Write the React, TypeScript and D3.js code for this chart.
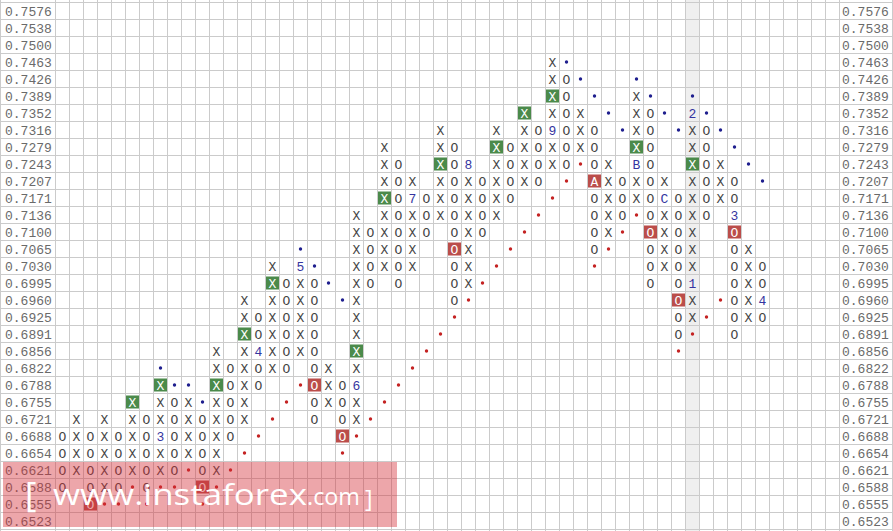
import * as d3 from 'd3';

// price rows, top to bottom
const priceLevels = [
  '0.7576', '0.7538', '0.7500', '0.7463', '0.7426', '0.7389', '0.7352', '0.7316',
  '0.7279', '0.7243', '0.7207', '0.7171', '0.7136', '0.7100', '0.7065', '0.7030',
  '0.6995', '0.6960', '0.6925', '0.6891', '0.6856', '0.6822', '0.6788', '0.6755',
  '0.6721', '0.6688', '0.6654', '0.6621', '0.6588', '0.6555', '0.6523',
];

// P&F columns, first one is an O column, then they alternate
const columnHigh = [
  '0.6688', '0.6721', '0.6688', '0.6721', '0.6688', '0.6755', '0.6721', '0.6788', '0.6755', '0.6755',
  '0.6721', '0.6856', '0.6822', '0.6960', '0.6925', '0.7030', '0.6995', '0.7030', '0.6995', '0.6822',
  '0.6788', '0.7136', '0.7100', '0.7279', '0.7243', '0.7207', '0.7171', '0.7316', '0.7279', '0.7243',
  '0.7207', '0.7316', '0.7279', '0.7352', '0.7316', '0.7463', '0.7426', '0.7352', '0.7316', '0.7243',
  '0.7207', '0.7389', '0.7352', '0.7207', '0.7171', '0.7352', '0.7316', '0.7243', '0.7207', '0.7065',
  '0.7030',
];
const columnLow = [
  '0.6588', '0.6621', '0.6555', '0.6588', '0.6588', '0.6621', '0.6588', '0.6621', '0.6621', '0.6654',
  '0.6588', '0.6621', '0.6688', '0.6721', '0.6788', '0.6822', '0.6822', '0.6856', '0.6721', '0.6755',
  '0.6688', '0.6721', '0.6995', '0.7030', '0.6995', '0.7030', '0.7100', '0.7136', '0.6960', '0.6995',
  '0.7100', '0.7136', '0.7171', '0.7207', '0.7207', '0.7243', '0.7243', '0.7279', '0.7065', '0.7100',
  '0.7136', '0.7171', '0.6995', '0.7030', '0.6891', '0.6925', '0.7136', '0.7171', '0.6891', '0.6925',
  '0.6925',
];

const greenBoxes: [number, string][] = [
  [5, '0.6755'], [7, '0.6788'], [11, '0.6788'], [13, '0.6891'], [15, '0.6995'], [21, '0.6856'],
  [23, '0.7171'], [27, '0.7243'], [31, '0.7279'], [33, '0.7352'], [35, '0.7389'], [41, '0.7279'],
  [45, '0.7243'],
];
const redBoxes: [number, string, string][] = [
  [2, '0.6555', 'O'], [10, '0.6588', 'O'], [18, '0.6788', 'O'], [20, '0.6688', 'O'], [28, '0.7065', 'O'],
  [38, '0.7207', 'A'], [42, '0.7100', 'O'], [44, '0.6960', 'O'], [48, '0.7100', 'O'],
];
const monthMarks: [number, string, string][] = [
  [7, '0.6688', '3'], [14, '0.6856', '4'], [17, '0.7030', '5'], [21, '0.6788', '6'], [25, '0.7171', '7'],
  [29, '0.7243', '8'], [35, '0.7316', '9'], [41, '0.7243', 'B'], [43, '0.7171', 'C'], [45, '0.7352', '2'],
  [45, '0.6995', '1'], [48, '0.7136', '3'], [50, '0.6960', '4'],
];

const resistanceDots: [number, string][] = [
  [7, '0.6822'], [8, '0.6788'], [9, '0.6788'], [10, '0.6755'],
  [17, '0.7065'], [18, '0.7030'], [19, '0.6995'], [20, '0.6960'],
  [36, '0.7463'], [37, '0.7426'], [38, '0.7389'], [39, '0.7352'], [40, '0.7316'],
  [41, '0.7426'], [42, '0.7389'], [43, '0.7352'], [44, '0.7316'],
  [45, '0.7389'], [46, '0.7352'], [47, '0.7316'], [48, '0.7279'], [49, '0.7243'], [50, '0.7207'],
];
const supportDots: [number, string][] = [
  [9, '0.6621'], [12, '0.6621'], [5, '0.6588'], [7, '0.6588'], [8, '0.6588'], [11, '0.6588'],
  [3, '0.6555'], [4, '0.6555'], [6, '0.6555'], [10, '0.6555'],
  [13, '0.6654'], [14, '0.6688'], [15, '0.6721'], [16, '0.6755'], [17, '0.6788'],
  [20, '0.6654'], [21, '0.6688'], [22, '0.6721'], [23, '0.6755'], [24, '0.6788'], [25, '0.6822'],
  [26, '0.6856'], [27, '0.6891'], [28, '0.6925'], [29, '0.6960'], [30, '0.6995'], [31, '0.7030'],
  [32, '0.7065'], [33, '0.7100'], [34, '0.7136'], [35, '0.7171'], [36, '0.7207'], [37, '0.7243'],
  [38, '0.7030'], [39, '0.7065'], [40, '0.7100'], [41, '0.7136'],
  [44, '0.6856'], [45, '0.6891'], [46, '0.6925'], [47, '0.6960'],
];

const shadedColumn = 45;
const gridColumns = 56;

const W = 893;
const H = 531;
const mono = "'Liberation Mono', 'Courier New', monospace";

export default function App() {
  const x = d3.scaleBand<number>().domain(d3.range(gridColumns)).range([55.5, 839.5]);
  const y = d3.scaleBand<string>().domain(priceLevels).range([2.5, 529.5]);
  const bw = x.bandwidth();
  const bh = y.bandwidth();
  const cx = (c: number) => x(c)! + bw / 2;
  const cy = (p: string) => y(p)! + bh / 2;

  const key = (c: number, p: string) => `${c}|${p}`;
  const special = new Set<string>([
    ...greenBoxes.map(([c, p]) => key(c, p)),
    ...redBoxes.map(([c, p]) => key(c, p)),
    ...monthMarks.map(([c, p]) => key(c, p)),
  ]);

  // plain X / O cells of every column
  const cells: { c: number; p: string; s: string }[] = [];
  columnHigh.forEach((hi, c) => {
    const a = priceLevels.indexOf(hi);
    const b = priceLevels.indexOf(columnLow[c]);
    const sym = c % 2 === 0 ? 'O' : 'X';
    for (let i = a; i <= b; i++) {
      const p = priceLevels[i];
      if (!special.has(key(c, p))) cells.push({ c, p, s: sym });
    }
  });

  const vLines = [...d3.range(gridColumns).map((c) => x(c)!), 839.5, 0.5, 892.5];
  const hLines = [...priceLevels.map((p) => y(p)!), 529.5];

  return (
    <div style={{ position: 'fixed', left: 0, top: 0 }}>
      <svg width={W} height={H} style={{ display: 'block', background: '#fff' }}>
        <rect x={x(shadedColumn)} y={0} width={bw} height={H} fill="#efefef" />
        <g stroke="#cbcbcb" strokeWidth={1}>
          {vLines.map((v, i) => (
            <line key={'v' + i} x1={v} x2={v} y1={0} y2={H} />
          ))}
          {hLines.map((h, i) => (
            <line key={'h' + i} x1={0} x2={W} y1={h} y2={h} />
          ))}
        </g>

        <g fontFamily={mono} fontSize={13} fill="#6a6a6a">
          {priceLevels.map((p) => (
            <g key={p}>
              <text x={5} y={cy(p)} dy="0.36em">{p}</text>
              <text x={842} y={cy(p)} dy="0.36em">{p}</text>
            </g>
          ))}
        </g>

        <g fontFamily={mono} fontSize={13} textAnchor="middle">
          {cells.map((d) => (
            <text key={key(d.c, d.p)} x={cx(d.c)} y={cy(d.p)} dy="0.36em" fill="#444">
              {d.s}
            </text>
          ))}
          {greenBoxes.map(([c, p]) => (
            <g key={'g' + c + p}>
              <rect x={cx(c) - 6.5} y={cy(p) - 6.5} width={13} height={13} fill="#4b8a4b" />
              <text x={cx(c)} y={cy(p)} dy="0.36em" fill="#fff">X</text>
            </g>
          ))}
          {redBoxes.map(([c, p, s]) => (
            <g key={'r' + c + p}>
              <rect x={cx(c) - 6.5} y={cy(p) - 6.5} width={13} height={13} fill="#bb4d4a" />
              <text x={cx(c)} y={cy(p)} dy="0.36em" fill="#fff">{s}</text>
            </g>
          ))}
          {monthMarks.map(([c, p, s]) => (
            <text key={'m' + c + p} x={cx(c)} y={cy(p)} dy="0.36em" fill="#3434a0">{s}</text>
          ))}
        </g>

        {resistanceDots.map(([c, p]) => (
          <circle key={'b' + c + p} cx={cx(c)} cy={cy(p)} r={1.7} fill="#1e1e8e" />
        ))}
        {supportDots.map(([c, p]) => (
          <circle key={'s' + c + p} cx={cx(c)} cy={cy(p)} r={1.7} fill="#c42222" />
        ))}

        {/* watermark */}
        <rect x={3} y={462} width={394} height={65} fill="rgb(214,48,58)" fillOpacity={0.43} />
        <g fill="#fff" fontFamily="'Open Sans', 'Noto Sans', sans-serif">
          <text x={25} y={507} fontSize={35}>[</text>
          <text x={53} y={505} fontSize={30} textLength={254} lengthAdjust="spacingAndGlyphs">
            www.instaforex
          </text>
          <text x={307} y={505} fontSize={23} textLength={53} lengthAdjust="spacingAndGlyphs">
            .com
          </text>
          <text x={365} y={507} fontSize={23}>]</text>
        </g>
      </svg>
    </div>
  );
}
